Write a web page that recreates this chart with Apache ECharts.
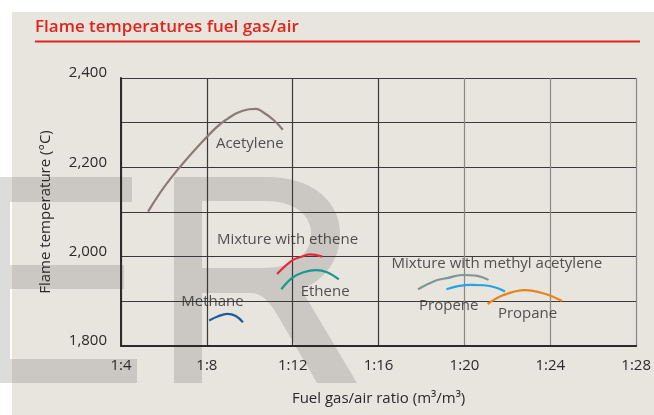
<!DOCTYPE html>
<html>
<head>
<meta charset="utf-8">
<script src="https://cdn.jsdelivr.net/npm/echarts@6/dist/echarts.min.js"></script>
<style>html,body{margin:0;padding:0;background:#fff;}#c{width:654px;height:415px;}</style>
</head>
<body>
<div id="c"></div>
<script>
// ---- data ----
const xTicks = [4, 8, 12, 16, 20, 24, 28];           // ratio 1:x
const yLabelled = [1800, 2000, 2200, 2400];

const acetylene = [[5.26,2101],[6.26,2172],[7.96,2266],[8.88,2306],[9.96,2330],[10.3,2331],[10.57,2325],[11.11,2306],[11.54,2284]];
const mixEthene = [[11.27,1961],[11.96,1991],[12.4,2000],[12.81,2005],[13.38,2000]];
const ethene = [[11.47,1927],[11.96,1952],[12.5,1965],[13.1,1970],[13.6,1965],[14.15,1949]];
const methane = [[8.11,1857],[8.5,1866],[8.96,1872],[9.35,1867],[9.68,1853]];
const mixMethylAcetylene = [[17.84,1927],[18.7,1947],[19.2,1952],[19.89,1959],[20.6,1957],[21.12,1948]];
const propene = [[19.16,1927],[19.7,1934],[20.3,1937],[20.9,1936],[21.45,1931],[21.89,1922]];
const propane = [[21.08,1894],[21.82,1914],[22.81,1925],[23.66,1918],[24.55,1901]];

const curveLabels = [
  {name:'Acetylene', value:[10.0,2252]},
  {name:'Mixture with ethene', value:[11.76,2039]},
  {name:'Ethene', value:[13.51,1922]},
  {name:'Methane', value:[8.26,1899]},
  {name:'Mixture with methyl acetylene', value:[21.51,1985]},
  {name:'Propene', value:[19.27,1890]},
  {name:'Propane', value:[22.94,1873]}
];

const FONT = '"Open Sans", "Noto Sans", sans-serif';
const TXT = '#2a2a2a';
const BEIGE = '#e8e4de';
const WM = '#cbc7c2';
const WM_LIGHT = '#dcdcdb';

// decorative watermark outline helper: sample cubic beziers into polygon points
function shapePoints(segs) {
  const pts = [];
  let cur = segs[0];
  pts.push(cur);
  for (let i = 1; i < segs.length; i++) {
    const s = segs[i];
    if (s.length === 2) { pts.push(s); cur = s; }
    else {
      const [c1x,c1y,c2x,c2y,ex,ey] = s;
      for (let t = 1; t <= 16; t++) {
        const u = t/16, v = 1-u;
        pts.push([
          v*v*v*cur[0] + 3*v*v*u*c1x + 3*v*u*u*c2x + u*u*u*ex,
          v*v*v*cur[1] + 3*v*v*u*c1y + 3*v*u*u*c2y + u*u*u*ey
        ]);
      }
      cur = [ex,ey];
    }
  }
  return pts;
}
const rOuter = shapePoints([[174,177],[268,177],[310,177,340,200,340,234],[340,262,322,282,301,289],[357,383],[317,383],[282,323],[272,306,265,293,250,293],[202,293],[202,383],[174,383]]);
const rInner = shapePoints([[202,201],[264,201],[294,201,311,214,311,234],[311,254,294,268,264,268],[202,268]]);

function line(name, data, color) {
  return {
    name, type:'line', data, smooth:0.4, symbol:'none', silent:true,
    lineStyle:{color, width:2.2}, z:3
  };
}

const chart = echarts.init(document.getElementById('c'), null, {renderer:'canvas'});
chart.setOption({
  backgroundColor:'#ffffff',
  animation:false,
  textStyle:{fontFamily:FONT},
  grid:{left:121, right:13, top:78, bottom:69, containLabel:false},
  graphic:[
    {type:'rect', z:-20, silent:true, shape:{x:12,y:12,width:660,height:420}, style:{fill:BEIGE}},
    {type:'rect', z:-10, silent:true, shape:{x:0,y:177,width:10,height:206}, style:{fill:WM_LIGHT}},
    {type:'rect', z:-10, silent:true, shape:{x:0,y:177,width:12,height:25}, style:{fill:WM_LIGHT}},
    {type:'rect', z:-10, silent:true, shape:{x:0,y:265,width:12,height:24}, style:{fill:WM_LIGHT}},
    {type:'rect', z:-10, silent:true, shape:{x:0,y:359,width:12,height:24}, style:{fill:WM_LIGHT}},
    {type:'rect', z:-10, silent:true, shape:{x:12,y:177,width:120,height:25}, style:{fill:WM}},
    {type:'rect', z:-10, silent:true, shape:{x:12,y:265,width:112,height:24}, style:{fill:WM}},
    {type:'rect', z:-10, silent:true, shape:{x:12,y:359,width:125,height:24}, style:{fill:WM}},
    {type:'polygon', z:-10, silent:true, shape:{points:rOuter}, style:{fill:WM}},
    {type:'polygon', z:-9, silent:true, shape:{points:rInner}, style:{fill:BEIGE}},
    {type:'text', z:5, silent:true, style:{text:'Flame temperatures fuel gas/air', x:35, y:27, verticalAlign:'middle', font:'600 17px ' + FONT, fill:'#e2231a'}},
    {type:'line', z:5, silent:true, shape:{x1:35,y1:41.5,x2:640,y2:41.5}, style:{stroke:'#e2231a', lineWidth:2}}
  ],
  xAxis:{
    type:'value', min:xTicks[0], max:xTicks[xTicks.length-1], interval:4,
    name:'Fuel gas/air ratio (m³/m³)', nameLocation:'middle', nameGap:45,
    nameTextStyle:{color:TXT, fontSize:15, fontFamily:FONT},
    axisLine:{show:true, lineStyle:{color:'#2b2b2b', width:2}},
    axisTick:{show:false},
    axisLabel:{color:TXT, fontSize:15, fontFamily:FONT, margin:12, formatter:v => '1:' + v},
    splitLine:{show:true, lineStyle:{color:['#3a3a3a','#3a3a3a','#3a3a3a','#3a3a3a','#8a8784','#8a8784','#8a8784'], width:1.2}}
  },
  yAxis:{
    type:'value', min:1800, max:2400, interval:100,
    name:'Flame temperature (°C)', nameLocation:'middle', nameGap:68,
    nameTextStyle:{color:TXT, fontSize:15, fontFamily:FONT},
    axisLine:{show:true, lineStyle:{color:'#2b2b2b', width:2}},
    axisTick:{show:false},
    axisLabel:{color:TXT, fontSize:15, fontFamily:FONT, margin:14, verticalAlign:'bottom', lineHeight:10,
      formatter:v => yLabelled.includes(v) ? v.toLocaleString('en-US') : ''},
    splitLine:{show:true, lineStyle:{color:'#3a3a3a', width:1.2}}
  },
  series:[
    line('Acetylene', acetylene, '#8b7a75'),
    line('Mixture with ethene', mixEthene, '#e12a3c'),
    line('Ethene', ethene, '#16998f'),
    line('Methane', methane, '#1c5c9e'),
    line('Mixture with methyl acetylene', mixMethylAcetylene, '#7c9794'),
    line('Propene', propene, '#27a2e2'),
    line('Propane', propane, '#e8841c'),
    {
      type:'scatter', data:curveLabels, symbolSize:0, silent:true, z:4,
      label:{show:true, position:'inside', formatter:p => p.name, color:TXT, fontSize:15, fontFamily:FONT}
    }
  ]
});
</script>
</body>
</html>
